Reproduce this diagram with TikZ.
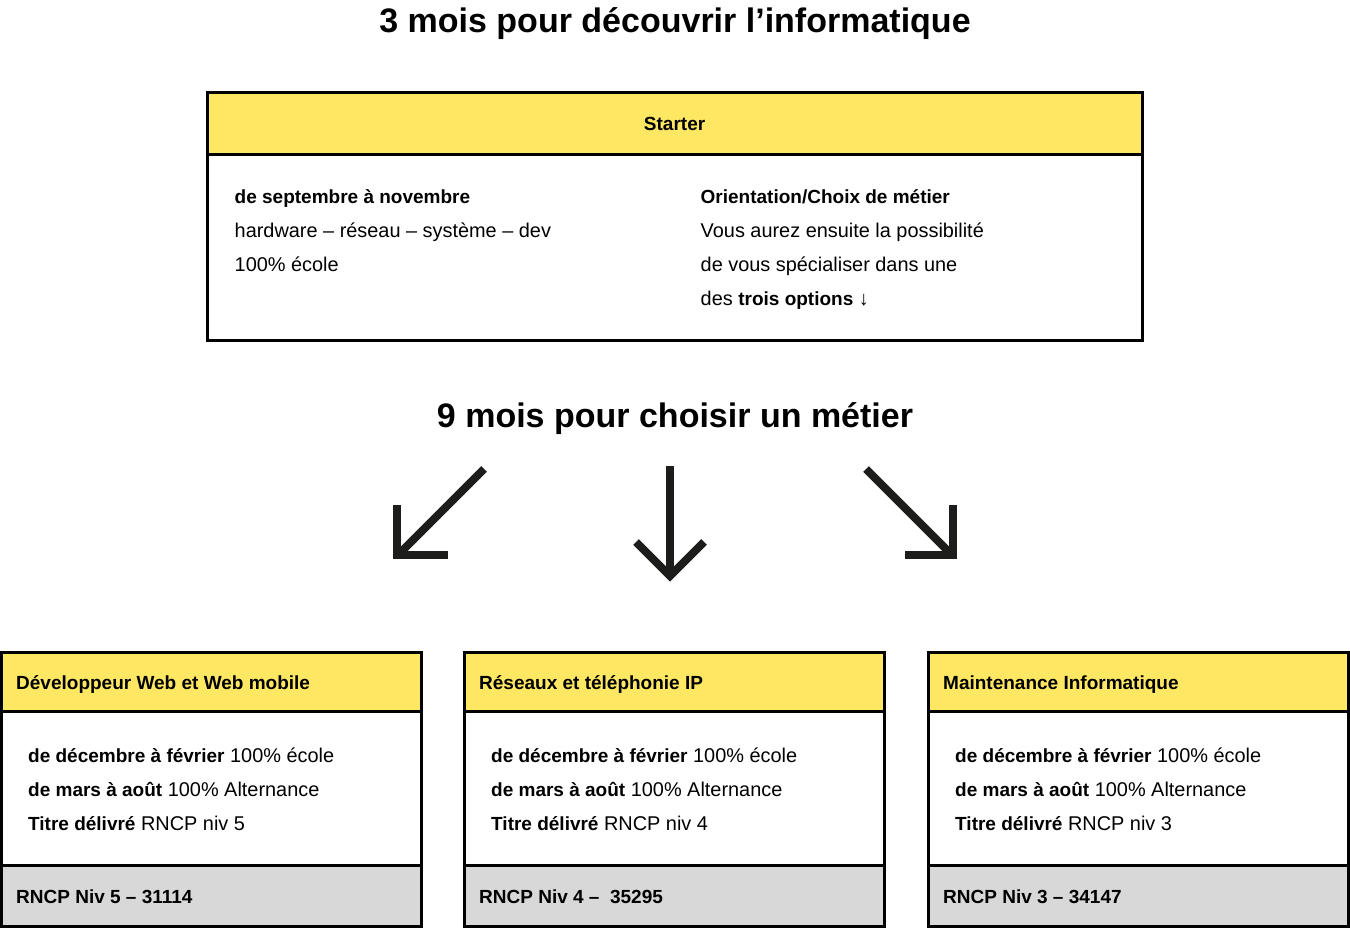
\documentclass[tikz,border=0pt]{standalone}
\usepackage{fontspec}
\setmainfont{Liberation Sans}
\definecolor{jaune}{HTML}{FEE762}
\definecolor{gris}{HTML}{D8D8D8}
\definecolor{encre}{HTML}{1D1D1B}
\newcommand{\gras}[1]{{\fontsize{19}{23}\selectfont\bfseries #1}}
\tikzset{
	cadre/.style={line width=3pt, draw=black},
	texte/.style={anchor=base west, inner sep=0pt, font=\fontsize{19.9}{23}\selectfont},
	entete/.style={texte, font=\fontsize{19}{23}\selectfont\bfseries},
	grandtitre/.style={anchor=base, inner sep=0pt, font=\fontsize{34}{40}\selectfont\bfseries},
	fleche/.style={line width=8pt, draw=encre, miter limit=10},
}
\newcommand{\Parcours}[4]{
	\fill[jaune] (0,0) rectangle (420,59);
	\fill[gris] (0,212.5) rectangle (420,273.5);
	\draw[cadre] (0,59) -- (420,59);
	\draw[cadre] (0,212.5) -- (420,212.5);
	\draw[cadre] (0,0) rectangle (420,273.5);
	\node[entete] (#1-titre) at (14.5,36.8) {#2};
	\node[texte] (#1-a) at (26.5,109.8) {\gras{de décembre à février} 100\% école};
	\node[texte] (#1-b) at (26.5,143.8) {\gras{de mars à août} 100\% Alternance};
	\node[texte] (#1-c) at (26.5,177.8) {\gras{Titre délivré} RNCP niv #3};
	\node[entete] (#1-rncp) at (14.5,250.8) {#4};
}

\begin{document}
\begin{tikzpicture}[x=1pt, y=-1pt]
	\useasboundingbox (0,0) rectangle (1350,931);
	\node[grandtitre] (titre) at (675,32.7) {3 mois pour découvrir l’informatique};

	% starter
	\fill[jaune] (207,92.5) rectangle (1142.3,154.5);
	\draw[cadre] (207,154.5) -- (1142.3,154.5);
	\draw[cadre] (207,92.5) rectangle (1142.3,340.5);
	\node[entete, anchor=base] (starter) at (674.6,130.3) {Starter};
	\node[entete] (periode) at (234.5,203.3) {de septembre à novembre};
	\node[texte] (modules) at (234.5,237.3) {hardware – réseau – système – dev};
	\node[texte] (ecole) at (234.5,271.3) {100\% école};
	\node[entete] (orient) at (700.5,203.3) {Orientation/Choix de métier};
	\node[texte] (orient-a) at (700.5,237.3) {Vous aurez ensuite la possibilité};
	\node[texte] (orient-b) at (700.5,271.3) {de vous spécialiser dans une};
	\node[texte] (orient-c) at (700.5,305.3) {des \gras{trois options} ↓};

	\node[grandtitre] (titre2) at (675,427) {9 mois pour choisir un métier};

	% fleches
	\coordinate (g-a) at (484,469);
	\coordinate (g-b) at (400,553);
	\draw[fleche] (g-a) -- (g-b);
	\draw[fleche] (397,505) -- (397,555) -- (448,555);
	\coordinate (m-a) at (670,466);
	\coordinate (m-b) at (670,572);
	\draw[fleche] (m-a) -- (m-b);
	\draw[fleche] (636,542) -- (670,576) -- (704,542);
	\coordinate (d-a) at (866,469);
	\coordinate (d-b) at (950,553);
	\draw[fleche] (d-a) -- (d-b);
	\draw[fleche] (953,505) -- (953,555) -- (905,555);

	\begin{scope}[shift={(1.5,652.5)}]
		\Parcours{dev}{Développeur Web et Web mobile}{5}{RNCP Niv 5 – 31114}
	\end{scope}
	\begin{scope}[shift={(464.5,652.5)}]
		\Parcours{reseau}{Réseaux et téléphonie IP}{4}{RNCP Niv 4 –\ \ 35295}
	\end{scope}
	\begin{scope}[shift={(928.5,652.5)}]
		\Parcours{maint}{Maintenance Informatique}{3}{RNCP Niv 3 – 34147}
	\end{scope}
\end{tikzpicture}
\end{document}
